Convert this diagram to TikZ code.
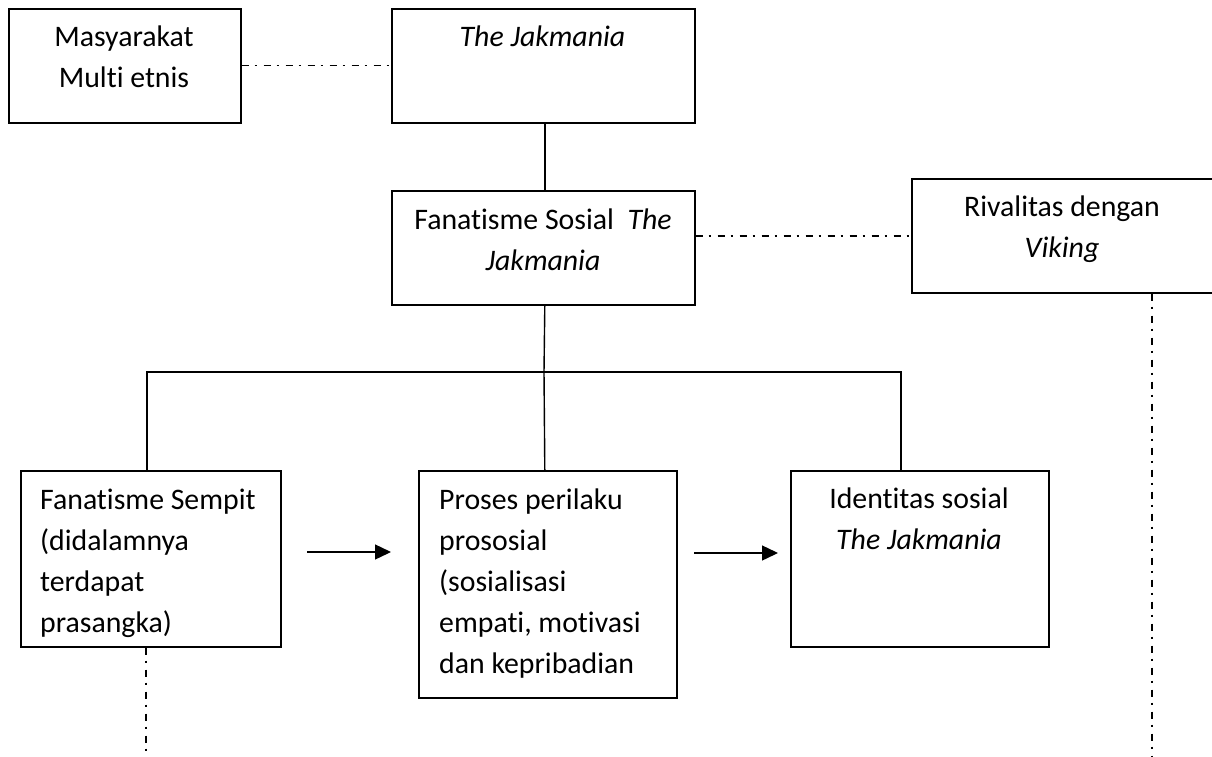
\documentclass[tikz,border=0pt]{standalone}
\usepackage{fontspec}
\setmainfont[Ligatures={NoCommon}]{Carlito}
\usetikzlibrary{arrows.meta}
\newcommand\lns[2]{\begin{tabular}[t]{@{}#1@{}}#2\end{tabular}}
\begin{document}
\begin{tikzpicture}[x=1pt,y=-1pt,
  box/.style={draw, line width=1.6pt, inner sep=0pt, anchor=north west},
  txt/.style={inner sep=0pt, anchor=base, font=\fontsize{29.8}{41}\selectfont},
  ln/.style={line width=1.4pt},
  dd/.style={line width=1.4pt, dash pattern=on 7pt off 6pt on 2pt off 7pt},
  arr/.style={line width=1.4pt, -{Triangle[length=16pt,width=15pt]}}]
\useasboundingbox (0,0) rectangle (1212,757);
\clip (0,0) rectangle (1212,757);
% boxes
\node[box, minimum width=232pt, minimum height=114pt] (A) at (8,8) {};
\node[box, minimum width=303pt, minimum height=114pt] (B) at (391,8) {};
\node[box, minimum width=303pt, minimum height=114pt] (C) at (391,190) {};
\node[box, minimum width=330pt, minimum height=114pt] (D) at (911,178) {};
\node[box, minimum width=260pt, minimum height=176pt] (E) at (20,470) {};
\node[box, minimum width=258pt, minimum height=227pt] (F) at (418,470) {};
\node[box, minimum width=258pt, minimum height=176pt] (G) at (790,470) {};
% texts
\node[txt] (At) at (124,47) {\lns{c}{Masyarakat\\Multi etnis}};
\node[txt] (Bt) at (542.5,47) {\textit{The Jakmania}};
\node[txt] (Ct) at (543,229) {\lns{c}{Fanatisme Sosial\ \ \textit{The}\\\textit{Jakmania}}};
\node[txt] (Dt) at (1062,216) {\lns{c}{Rivalitas dengan\\\textit{Viking}}};
\node[txt, anchor=base west] (Et) at (40,509) {\lns{l}{Fanatisme Sempit\\(didalamnya\\terdapat\\prasangka)}};
\node[txt, anchor=base west] (Ft) at (439,509) {\lns{l}{Proses perilaku\\prososial\\(sosialisasi\\empati, motivasi\\dan kepribadian}};
\node[txt] (Gt) at (919,508) {\lns{c}{Identitas sosial\\\textit{The Jakmania}}};
% dash-dot links
\coordinate (dx) at (1152,757);
\coordinate (ex) at (146,757);
\draw[dd] (A.east) -- (B.west);
\draw[dd] (C.east |- D.west) -- (D.west);
\draw[dd] (D.south -| dx) -- (dx);
\draw[dd] (E.south -| ex) -- (ex);
% tree
\coordinate (j) at (544,372);
\draw[ln] ([xshift=1.5pt]B.south) -- ([xshift=1.5pt]C.north);
\draw[ln] ([xshift=1.5pt]C.south) -- (j);
\draw[ln] ([xshift=-4pt]E.north) -- ++(0,-98) -| ([xshift=-19pt]G.north);
\draw[ln] ([xshift=-3pt]F.north) -- (j);
% arrows
\coordinate (a1s) at (307,552);
\coordinate (a1e) at (391,552);
\coordinate (a2s) at (694,553);
\coordinate (a2e) at (778,553);
\draw[arr] (a1s) -- (a1e);
\draw[arr] (a2s) -- (a2e);
\end{tikzpicture}
\end{document}
